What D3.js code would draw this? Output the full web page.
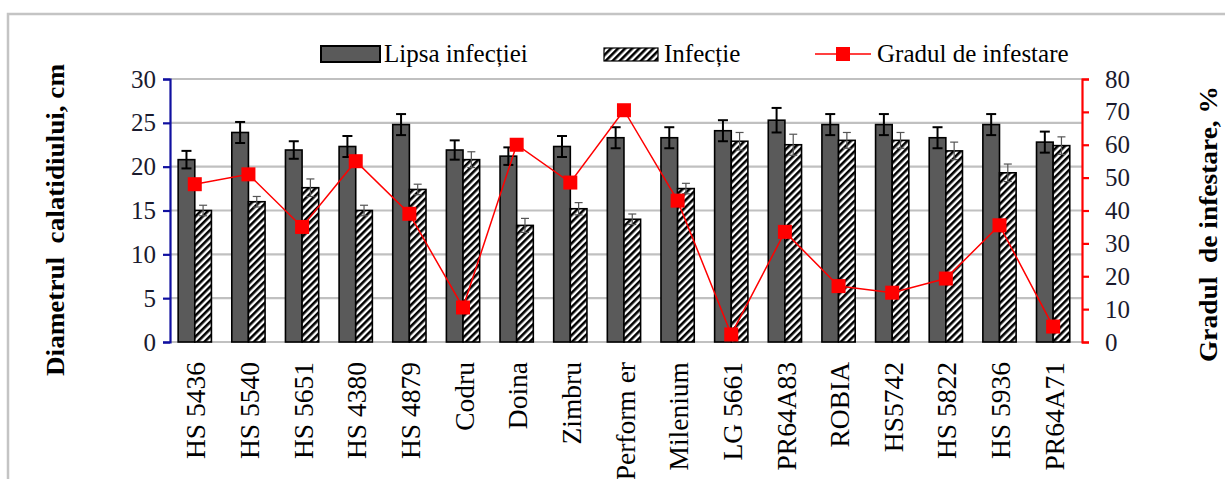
<!DOCTYPE html>
<html><head><meta charset="utf-8">
<script src="https://cdn.jsdelivr.net/npm/d3@7"></script>
<style>html,body{margin:0;padding:0;background:#fff;}svg{display:block;font-family:"Liberation Serif","Times New Roman",serif;}</style>
</head><body>
<svg id="c" width="1225" height="479"></svg>
<script>
const categories = ["HS 5436","HS 5540","HS 5651","HS 4380","HS 4879","Codru","Doina","Zimbru","Perform er","Milenium","LG 5661","PR64A83","ROBIA","HS5742","HS 5822","HS 5936","PR64A71"];
const lipsaInfectiei = [20.8,23.9,21.9,22.3,24.8,21.9,21.2,22.3,23.3,23.3,24.1,25.3,24.8,24.8,23.3,24.8,22.8];
const lipsaErr       = [1.0,1.2,1.0,1.2,1.2,1.1,1.0,1.2,1.2,1.2,1.2,1.4,1.2,1.2,1.2,1.2,1.2];
const infectie       = [15.0,16.0,17.6,15.0,17.4,20.8,13.3,15.2,14.0,17.5,22.9,22.5,23.0,23.0,21.8,19.3,22.4];
const infectieErr    = [0.6,0.6,1.0,0.6,0.6,0.9,0.8,0.7,0.6,0.6,1.0,1.2,0.9,0.9,1.0,1.0,1.0];
const gradul         = [48,51,35,55,39,10.5,60,48.5,70.5,43,2.3,33.5,17,15,19.3,35.5,4.7];
const leftTicks = [0,5,10,15,20,25,30];
const rightTicks = [0,10,20,30,40,50,60,70,80];
const legendLabels = ["Lipsa infecției","Infecție","Gradul de infestare"];

const svg = d3.select("#c");
const defs = svg.append("defs");
const pat = defs.append("pattern").attr("id","hatch").attr("patternUnits","userSpaceOnUse")
  .attr("width",5).attr("height",5).attr("patternTransform","rotate(45)");
pat.append("rect").attr("width",5).attr("height",5).attr("fill","#fff");
pat.append("rect").attr("width",2.6).attr("height",5).attr("fill","#000");

// frame
svg.append("rect").attr("x",8).attr("y",14).attr("width",1400).attr("height",700)
  .attr("fill","none").attr("stroke","#c4c4c4").attr("stroke-width",2.5);

const x0 = 170, x1 = 1082, yTop = 79, yBot = 342;
const x = d3.scaleBand().domain(categories).range([x0,x1]).paddingInner(0.38).paddingOuter(0.19).align(0.4);
const xs = d3.scaleBand().domain(["a","b"]).range([0,x.bandwidth()]);
const yL = d3.scaleLinear().domain([0,30]).range([yBot,yTop]);
const yR = d3.scaleLinear().domain([0,80]).range([yBot,yTop]);

// gridlines
svg.append("g").selectAll("line").data(leftTicks).join("line")
  .attr("x1",x0).attr("x2",x1).attr("y1",d=>yL(d)).attr("y2",d=>yL(d))
  .attr("stroke","#c0c0c0").attr("stroke-width",2.2);

// bars
const g = svg.append("g");
categories.forEach((c,i)=>{
  const bx = x(c);
  g.append("rect").attr("x",bx+xs("a")).attr("width",xs.bandwidth())
    .attr("y",yL(lipsaInfectiei[i])).attr("height",yBot-yL(lipsaInfectiei[i]))
    .attr("fill","#5a5a5a").attr("stroke","#000").attr("stroke-width",1.6);
  g.append("rect").attr("x",bx+xs("b")).attr("width",xs.bandwidth())
    .attr("y",yL(infectie[i])).attr("height",yBot-yL(infectie[i]))
    .attr("fill","url(#hatch)").attr("stroke","#000").attr("stroke-width",1.6);
});
// error bars
function errBar(cx, v, e, col, w, cap){
  const eg = g.append("g").attr("stroke",col).attr("stroke-width",w);
  eg.append("line").attr("x1",cx).attr("x2",cx).attr("y1",yL(v-e)).attr("y2",yL(v+e));
  eg.append("line").attr("x1",cx-cap).attr("x2",cx+cap).attr("y1",yL(v+e)).attr("y2",yL(v+e));
  eg.append("line").attr("x1",cx-cap).attr("x2",cx+cap).attr("y1",yL(v-e)).attr("y2",yL(v-e));
}
categories.forEach((c,i)=>{
  const bx = x(c);
  errBar(bx+xs("a")+xs.bandwidth()/2, lipsaInfectiei[i], lipsaErr[i], "#000", 2, 5);
  errBar(bx+xs("b")+xs.bandwidth()/2, infectie[i], infectieErr[i], "#555", 1.2, 4);
});

// line
const line = d3.line().x((d,i)=>x(categories[i])+x.bandwidth()/2).y(d=>yR(d));
svg.append("path").datum(gradul).attr("d",line).attr("fill","none").attr("stroke","#ff0000").attr("stroke-width",1.5);
svg.append("g").selectAll("rect").data(gradul).join("rect")
  .attr("x",(d,i)=>x(categories[i])+x.bandwidth()/2-7).attr("y",d=>yR(d)-7)
  .attr("width",14).attr("height",14).attr("fill","#ff0000");

// left axis
const axL = svg.append("g").attr("transform",`translate(${x0},0)`)
  .call(d3.axisLeft(yL).tickValues(leftTicks).tickSize(7).tickPadding(7));
axL.select(".domain").attr("stroke","#1010a0").attr("stroke-width",2.2);
axL.selectAll(".tick line").attr("stroke","#1010a0").attr("stroke-width",2.2);
axL.selectAll(".tick text").attr("font-size",25).attr("fill","#1a1a2e").attr("font-family","Liberation Serif");

// right axis
const axR = svg.append("g").attr("transform",`translate(${x1},0)`)
  .call(d3.axisRight(yR).tickValues(rightTicks).tickSize(7).tickPadding(16));
axR.select(".domain").attr("stroke","#ff0000").attr("stroke-width",2.2);
axR.selectAll(".tick line").attr("stroke","#ff0000").attr("stroke-width",2.2);
axR.selectAll(".tick text").attr("font-size",25).attr("fill","#1a1a2e").attr("font-family","Liberation Serif");

// x labels
svg.append("g").selectAll("text").data(categories).join("text")
  .attr("transform",d=>`translate(${x(d)+x.bandwidth()/2+1},362) rotate(-90)`)
  .attr("text-anchor","end").attr("dy","0.35em").attr("font-size",27.5).attr("fill","#000").text(d=>d);

// axis titles
svg.append("text").attr("transform","translate(55,220) rotate(-90)").attr("text-anchor","middle")
  .attr("dy","0.35em").attr("font-size",25).attr("font-weight","bold").attr("fill","#000")
  .attr("xml:space","preserve").attr("textLength",312).attr("lengthAdjust","spacingAndGlyphs")
  .text("Diametrul  calatidiului, cm");
svg.append("text").attr("transform","translate(1208,224) rotate(-90)").attr("text-anchor","middle")
  .attr("dy","0.35em").attr("font-size",25).attr("font-weight","bold").attr("fill","#000")
  .attr("xml:space","preserve").attr("textLength",276).attr("lengthAdjust","spacingAndGlyphs")
  .text("Gradul  de infestare, %");

// legend
const lg = svg.append("g");
lg.append("rect").attr("x",321).attr("y",46).attr("width",59).attr("height",16).attr("fill","#5a5a5a").attr("stroke","#000").attr("stroke-width",2);
lg.append("text").attr("x",384).attr("y",62).attr("font-size",25).attr("fill","#000").text(legendLabels[0]);
lg.append("rect").attr("x",604).attr("y",48).attr("width",54).attr("height",13).attr("fill","url(#hatch)").attr("stroke","#000").attr("stroke-width",1.2);
lg.append("text").attr("x",664).attr("y",62).attr("font-size",25).attr("fill","#000").text(legendLabels[1]);
lg.append("line").attr("x1",815).attr("x2",871).attr("y1",54).attr("y2",54).attr("stroke","#ff0000").attr("stroke-width",1.5);
lg.append("rect").attr("x",836).attr("y",47).attr("width",14).attr("height",14).attr("fill","#ff0000");
lg.append("text").attr("x",877).attr("y",62).attr("font-size",25).attr("fill","#000").text(legendLabels[2]);
</script>
</body></html>
